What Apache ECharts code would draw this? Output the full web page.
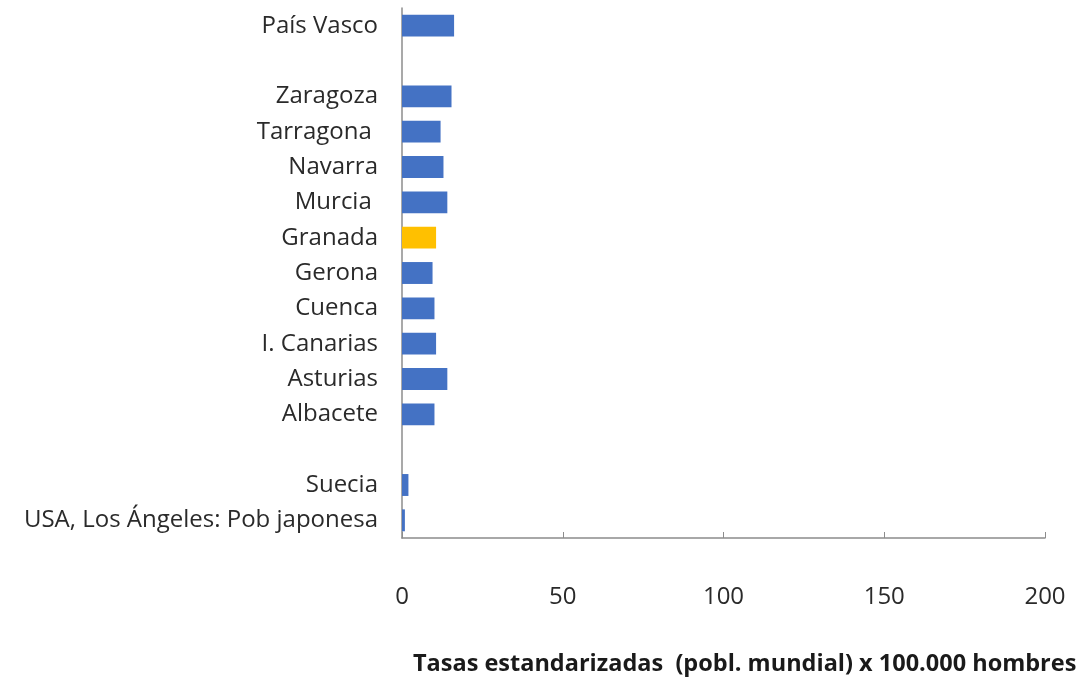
<!DOCTYPE html>
<html><head><meta charset="utf-8">
<script src="https://cdn.jsdelivr.net/npm/echarts@6/dist/echarts.min.js"></script>
<style>html,body{margin:0;padding:0;background:#fff}#c{width:1086px;height:684px}</style>
</head><body><div id="c"></div>
<script>
const categories = ['País Vasco', ' ', 'Zaragoza', 'Tarragona ', 'Navarra', 'Murcia ', 'Granada', 'Gerona', 'Cuenca', 'I. Canarias', 'Asturias', 'Albacete', '  ', 'Suecia', 'USA, Los Ángeles: Pob japonesa'];
const values = [16.2, null, 15.4, 12.0, 12.9, 14.1, 10.6, 9.5, 10.1, 10.6, 14.1, 10.1, null, 2.0, 0.9];
const highlight = ['Granada'];
const xTicks = [0, 50, 100, 150, 200];
const axisTitle = 'Tasas estandarizadas  (pobl. mundial) x 100.000 hombres';

const FONT = '"Open Sans", sans-serif';
const chart = echarts.init(document.getElementById('c'), null, {renderer: 'canvas'});
chart.setOption({
  animation: false,
  backgroundColor: '#ffffff',
  title: {
    text: axisTitle, left: 408, top: 647,
    textStyle: {fontFamily: FONT, fontWeight: 'bold', fontSize: 23.5, color: '#1a1a1a'}
  },
  grid: {left: 402, right: 41, top: 8, bottom: 146, containLabel: false},
  xAxis: {
    type: 'value', min: xTicks[0], max: xTicks[xTicks.length - 1], interval: 50,
    axisLine: {show: true, lineStyle: {color: '#8c8c8c', width: 1.5}},
    axisTick: {show: true, inside: true, length: 6, lineStyle: {color: '#8c8c8c'}},
    splitLine: {show: false},
    axisLabel: {margin: 47, fontFamily: FONT, fontSize: 24, color: '#2a2a2a'}
  },
  yAxis: {
    type: 'category', inverse: true, data: categories,
    axisLine: {show: true, lineStyle: {color: '#8c8c8c', width: 1.5}},
    axisTick: {show: false},
    axisLabel: {margin: 24, fontFamily: FONT, fontSize: 24, color: '#2a2a2a', interval: 0}
  },
  series: [{
    type: 'bar', barCategoryGap: '38%',
    data: values.map((v, i) => ({
      value: v,
      itemStyle: {color: highlight.includes(categories[i]) ? '#FFC000' : '#4472C4'}
    }))
  }]
});
</script></body></html>
